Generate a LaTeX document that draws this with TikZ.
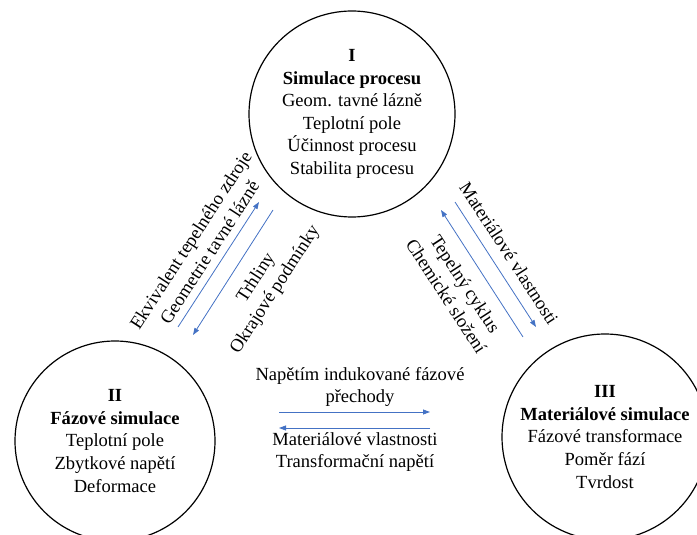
\documentclass[tikz,border=0pt]{standalone}
\usepackage{fontspec}
\setmainfont{Liberation Serif}
\usetikzlibrary{arrows.meta,calc,positioning}
\definecolor{arrowblue}{RGB}{68,114,196}
\tikzset{
    simcircle/.style={draw,circle,line width=1.2bp,inner sep=0pt,align=center,
        font=\fontsize{18.6}{22.6}\selectfont},
    flowarrow/.style={arrowblue,line width=0.8bp,-{Triangle[length=7bp,width=5bp]}},
    flowlabel/.style={align=center,inner sep=0pt,font=\fontsize{18.6}{22.6}\selectfont},
}
\newcommand\SIMCIRCLE[4] {
    \pgfmathsetmacro{\rr}{#3}
    \node[simcircle,minimum size=2*\rr bp] (#1) at #2 {#4};
}

\begin{document}
\begin{tikzpicture}[x=1bp,y=-1bp, every node/.style={} ]
    \useasboundingbox (0,0) rectangle (697,535);
    % Draw the three simulation circles.
    \SIMCIRCLE{proc}{(352,114)}{103}{\textbf{I}\\\textbf{Simulace procesu}\\Geom. tavné lázně\\Teplotní pole\\Účinnost procesu\\Stabilita procesu}
    \SIMCIRCLE{faz}{(115,441)}{100}{\textbf{II}\\\textbf{Fázové simulace}\\Teplotní pole\\Zbytkové napětí\\Deformace}
    \SIMCIRCLE{mat}{(605,437)}{103}{\textbf{III}\\\textbf{Materiálové simulace}\\Fázové transformace\\Poměr fází\\Tvrdost}

    % Arrow ends.
    \coordinate (fazup)   at (178,327);
    \coordinate (procdl)  at (259,202);
    \coordinate (procdr)  at (273,210);
    \coordinate (fazdn)   at (193,335);
    \coordinate (procmr)  at (455,202);
    \coordinate (matup)   at (536,327);
    \coordinate (matdn)   at (523,337);
    \coordinate (procml)  at (441,210);
    \coordinate (fazr)    at (279,412);
    \coordinate (matl)    at (430,412);
    \coordinate (matl2)   at (430,428);
    \coordinate (fazr2)   at (279,428);

    \draw[flowarrow] (fazup) -- (procdl);
    \draw[flowarrow] (procdr) -- (fazdn);
    \draw[flowarrow] (procmr) -- (matup);
    \draw[flowarrow] (matdn) -- (procml);
    \draw[flowarrow] (fazr) -- (matl);
    \draw[flowarrow] (matl2) -- (fazr2);

    % Labels along the arrows.
    \node[flowlabel,rotate=57] (lblfazproc) at (200,246) {Ekvivalent tepelného zdroje\\Geometrie tavné lázně};
    \node[flowlabel,rotate=57] (lblprocfaz) at (266,284) {Trhliny\\Okrajové podmínky};
    \node[flowlabel,rotate=-57] (lblprocmat) at (509,253) {Materiálové vlastnosti};
    \node[flowlabel,rotate=-57] (lblmatproc) at (456,290) {Tepelný cyklus\\Chemické složení};
    \node[flowlabel] (lblfazmat) at (360,387) {Napětím indukované fázové\\přechody};
    \node[flowlabel] (lblmatfaz) at (355,452) {Materiálové vlastnosti\\Transformační napětí};
\end{tikzpicture}
\end{document}
